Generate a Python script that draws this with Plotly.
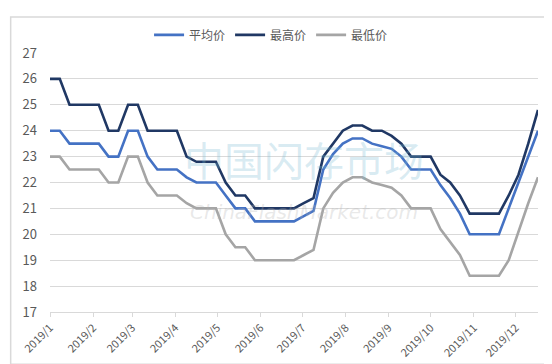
import plotly.graph_objects as go
import pandas as pd

# Weekly observation dates (51 weeks starting 2019-01-01)
dates = pd.date_range("2019-01-01", periods=51, freq="7D").strftime("%Y-%m-%d").tolist()

series_names = ["平均价", "最高价", "最低价"]

avg_price = [24, 24, 23.5, 23.5, 23.5, 23.5, 23, 23, 24, 24,
             23, 22.5, 22.5, 22.5, 22.2, 22, 22, 22, 21.5, 21,
             21, 20.5, 20.5, 20.5, 20.5, 20.5, 20.7, 20.9, 22.5, 23.1,
             23.5, 23.7, 23.7, 23.5, 23.4, 23.3, 23.0, 22.5, 22.5, 22.5,
             21.9, 21.4, 20.8, 20, 20, 20, 20, 21, 22, 23, 24]

max_price = [26, 26, 25, 25, 25, 25, 24, 24, 25, 25,
             24, 24, 24, 24, 23, 22.8, 22.8, 22.8, 22, 21.5,
             21.5, 21, 21, 21, 21, 21, 21.2, 21.4, 23, 23.5,
             24, 24.2, 24.2, 24, 24, 23.8, 23.5, 23, 23, 23,
             22.3, 22, 21.5, 20.8, 20.8, 20.8, 20.8, 21.5, 22.3, 23.5, 24.8]

min_price = [23, 23, 22.5, 22.5, 22.5, 22.5, 22, 22, 23, 23,
             22, 21.5, 21.5, 21.5, 21.2, 21, 21, 21, 20, 19.5,
             19.5, 19, 19, 19, 19, 19, 19.2, 19.4, 21, 21.6,
             22, 22.2, 22.2, 22, 21.9, 21.8, 21.5, 21, 21, 21,
             20.2, 19.7, 19.2, 18.4, 18.4, 18.4, 18.4, 19, 20.1, 21.2, 22.2]

month_ticks = ["2019-%02d-01" % m for m in range(1, 13)]
month_labels = ["2019/%d" % m for m in range(1, 13)]
y_ticks = list(range(17, 28))

colors = ["#4472C4", "#203864", "#A5A5A5"]

fig = go.Figure()
for name, vals, col in zip(series_names, [avg_price, max_price, min_price], colors):
    fig.add_trace(go.Scatter(
        x=dates, y=vals, mode="lines", name=name,
        line=dict(color=col, width=2.6),
        hoverinfo="skip",
    ))

font_family = "Noto Sans CJK SC, Noto Sans, sans-serif"

# watermark
fig.add_annotation(
    x=0.52, y=0.59, xref="paper", yref="paper",
    text="中国闪存市场", showarrow=False,
    font=dict(family="Noto Sans CJK SC", size=40, color="rgba(120,185,210,0.28)"),
)
fig.add_annotation(
    x=0.52, y=0.385, xref="paper", yref="paper",
    text="<i>ChinaFlashMarket.com</i>", showarrow=False,
    font=dict(family="DejaVu Sans", size=20, color="rgba(180,180,180,0.30)"),
)

# outer border
fig.add_shape(
    type="rect", xref="paper", yref="paper",
    x0=-0.0806, x1=1.0347, y0=-0.2015, y1=1.1394,
    line=dict(color="#d9d9d9", width=1.5), fillcolor="rgba(0,0,0,0)",
    layer="below",
)

fig.update_layout(
    width=552, height=364,
    margin=dict(l=40, r=22, t=38, b=57),
    paper_bgcolor="white", plot_bgcolor="white",
    font=dict(family=font_family, color="#595959"),
    showlegend=True,
    legend=dict(
        orientation="h", x=0.453, y=1.07, xanchor="center", yanchor="middle",
        font=dict(size=12, color="#595959"), itemwidth=30,
        bgcolor="rgba(0,0,0,0)",
    ),
    xaxis=dict(
        type="date",
        range=["2019-01-01", dates[-1]],
        tickmode="array", tickvals=month_ticks, ticktext=month_labels,
        tickangle=-45, tickfont=dict(size=11, color="#595959"),
        showgrid=False, showline=True, linecolor="#d9d9d9", linewidth=1,
        ticks="outside", ticklen=4, tickcolor="#d9d9d9",
        zeroline=False,
    ),
    yaxis=dict(
        range=[17, 27], tickmode="array", tickvals=y_ticks,
        tickfont=dict(size=13, color="#595959"),
        showgrid=True, gridcolor="#d9d9d9", gridwidth=1,
        zeroline=False, showline=False, ticks="",
        ticklabelstandoff=12,
    ),
)

fig.write_html("out.html")
